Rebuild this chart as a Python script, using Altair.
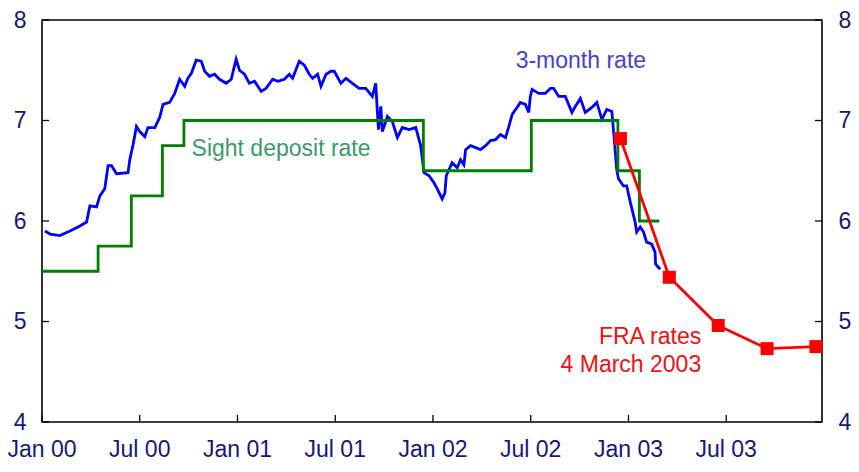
import altair as alt
import pandas as pd

# ---- data ----
# 3-month rate: decimal year, percent
rate3m_t = [2000.015, 2000.041, 2000.092, 2000.143, 2000.194, 2000.228, 2000.245, 2000.279, 2000.296, 2000.321,
            2000.338, 2000.356, 2000.381, 2000.440, 2000.449, 2000.466, 2000.483, 2000.500, 2000.526, 2000.542,
            2000.577, 2000.602, 2000.619, 2000.653, 2000.679, 2000.704, 2000.730, 2000.746, 2000.764, 2000.789,
            2000.815, 2000.832, 2000.857, 2000.883, 2000.908, 2000.942, 2000.968, 2000.993, 2001.010, 2001.036,
            2001.061, 2001.087, 2001.121, 2001.146, 2001.180, 2001.206, 2001.240, 2001.265, 2001.282, 2001.316,
            2001.342, 2001.367, 2001.384, 2001.410, 2001.427, 2001.453, 2001.478, 2001.495, 2001.529, 2001.555,
            2001.588, 2001.622, 2001.656, 2001.690, 2001.707, 2001.721, 2001.733, 2001.741, 2001.767, 2001.792,
            2001.818, 2001.843, 2001.878, 2001.912, 2001.937, 2001.954, 2001.980, 2002.005, 2002.022, 2002.047,
            2002.061, 2002.068, 2002.098, 2002.124, 2002.141, 2002.158, 2002.167, 2002.192, 2002.218, 2002.243,
            2002.269, 2002.294, 2002.320, 2002.345, 2002.371, 2002.388, 2002.405, 2002.430, 2002.447, 2002.473,
            2002.490, 2002.498, 2002.507, 2002.541, 2002.575, 2002.601, 2002.617, 2002.643, 2002.677, 2002.711,
            2002.728, 2002.754, 2002.779, 2002.813, 2002.838, 2002.864, 2002.889, 2002.915, 2002.923, 2002.940,
            2002.949, 2002.974, 2002.991, 2003.009, 2003.034, 2003.042, 2003.060, 2003.077, 2003.093, 2003.119,
            2003.136, 2003.139, 2003.162]
rate3m_v = [5.90, 5.87, 5.855, 5.90, 5.95, 5.99, 6.15, 6.14, 6.25, 6.32,
            6.55, 6.55, 6.47, 6.48, 6.61, 6.76, 6.94, 6.89, 6.84, 6.93,
            6.93, 7.03, 7.16, 7.18, 7.27, 7.41, 7.34, 7.42, 7.47, 7.60,
            7.59, 7.49, 7.44, 7.46, 7.41, 7.37, 7.41, 7.61, 7.50, 7.46,
            7.37, 7.39, 7.29, 7.32, 7.41, 7.39, 7.41, 7.46, 7.42, 7.59,
            7.55, 7.46, 7.42, 7.46, 7.34, 7.46, 7.49, 7.49, 7.37, 7.42,
            7.37, 7.32, 7.32, 7.24, 7.37, 6.91, 7.14, 6.89, 7.04, 6.99,
            6.83, 6.93, 6.91, 6.93, 6.75, 6.48, 6.45, 6.38, 6.32, 6.22,
            6.28, 6.45, 6.58, 6.53, 6.61, 6.56, 6.71, 6.75, 6.73, 6.71,
            6.75, 6.80, 6.81, 6.86, 6.83, 6.94, 7.06, 7.13, 7.18, 7.16,
            7.08, 7.24, 7.31, 7.27, 7.27, 7.32, 7.32, 7.24, 7.24, 7.08,
            7.14, 7.22, 7.08, 7.13, 7.18, 7.01, 7.11, 7.09, 6.91, 6.51,
            6.42, 6.35, 6.35, 6.19, 5.99, 5.89, 5.94, 5.89, 5.79, 5.77,
            5.69, 5.57, 5.52]

# Sight deposit rate (step changes)
sdr_t = [2000.0, 2000.287, 2000.457, 2000.616, 2000.726, 2001.951, 2002.503, 2002.946, 2003.056, 2003.158]
sdr_v = [5.5, 5.75, 6.25, 6.75, 7.0, 6.5, 7.0, 6.5, 6.0, 6.0]

# FRA rates, 4 March 2003
fra_t = [2002.959, 2003.209, 2003.459, 2003.709, 2003.959]
fra_v = [6.82, 5.44, 4.96, 4.73, 4.75]

x_ticks = [2000.0, 2000.5, 2001.0, 2001.5, 2002.0, 2002.5, 2003.0, 2003.5]
x_tick_labels = ["Jan 00", "Jul 00", "Jan 01", "Jul 01", "Jan 02", "Jul 02", "Jan 03", "Jul 03"]
y_ticks = [4, 5, 6, 7, 8]

# annotations
lab_left_text = ["3-month rate", "Sight deposit rate"]
lab_left_t = [2002.423, 2000.765]
lab_left_v = [7.525, 6.644]
lab_left_col = ["#4343d0", "#3a9a6c"]
lab_right_text = ["FRA rates", "4 March 2003"]
lab_right_t = [2003.372, 2003.372]
lab_right_v = [4.772, 4.495]

# ---- chart ----
W, H = 780, 402
FONT = "Liberation Sans"
LABEL_COL = "#16167a"
FS = 23

xs = alt.Scale(domain=[2000.0, 2003.99], nice=False, zero=False)
ys = alt.Scale(domain=[4, 8], nice=False, zero=False)

df3 = pd.DataFrame({"t": rate3m_t, "v": rate3m_v})
dfs = pd.DataFrame({"t": sdr_t, "v": sdr_v})
dff = pd.DataFrame({"t": fra_t, "v": fra_v})
dfx = pd.DataFrame({"t": x_ticks, "lab": x_tick_labels})
dfy = pd.DataFrame({"v": y_ticks})
dfl = pd.DataFrame({"t": lab_left_t, "v": lab_left_v, "txt": lab_left_text, "c": lab_left_col})
dfr = pd.DataFrame({"t": lab_right_t, "v": lab_right_v, "txt": lab_right_text})

yl_axis = alt.Axis(values=y_ticks, orient="left", domain=False, ticks=False, tickSize=0, grid=False,
                   labelFont=FONT, labelFontSize=FS, labelColor=LABEL_COL, labelPadding=16,
                   labelFlush=False, labelOverlap=False, labelBound=False, title=None)
yr_axis = alt.Axis(values=y_ticks, orient="right", domain=False, ticks=False, tickSize=0, grid=False,
                   labelFont=FONT, labelFontSize=FS, labelColor=LABEL_COL, labelPadding=16,
                   labelFlush=False, labelOverlap=False, labelBound=False, title=None)

X = alt.X("t:Q", scale=xs, axis=None)

blue = alt.Chart(df3).mark_line(color="#0000ff", strokeWidth=2.8).encode(
    x=X,
    y=alt.Y("v:Q", scale=ys, axis=yl_axis),
)
green = alt.Chart(dfs).mark_line(color="#008000", strokeWidth=2.8, interpolate="step-after").encode(
    x=X, y=alt.Y("v:Q", scale=ys, axis=None),
)
red_line = alt.Chart(dff).mark_line(color="#ff0000", strokeWidth=2.8).encode(
    x=X, y=alt.Y("v:Q", scale=ys, axis=None),
)
red_pts = alt.Chart(dff).mark_point(shape="square", filled=True, color="#ff0000", size=170, opacity=1).encode(
    x=X, y=alt.Y("v:Q", scale=ys, axis=None),
)
txt_left = alt.Chart(dfl).mark_text(align="left", baseline="alphabetic", font=FONT, fontSize=FS).encode(
    x=X, y=alt.Y("v:Q", scale=ys, axis=None),
    text="txt:N",
    color=alt.Color("c:N", scale=None),
)
txt_right = alt.Chart(dfr).mark_text(align="right", baseline="alphabetic", font=FONT, fontSize=FS,
                                     color="#f01010").encode(
    x=X, y=alt.Y("v:Q", scale=ys, axis=None),
    text="txt:N",
)
tick_left = alt.Chart(dfy).mark_rule(color="black", strokeWidth=1.3).encode(
    y=alt.Y("v:Q", scale=ys, axis=None),
    x=alt.value(0), x2=alt.value(7),
)
tick_right = alt.Chart(dfy).mark_rule(color="black", strokeWidth=1.3).encode(
    y=alt.Y("v:Q", scale=ys, axis=yr_axis),
    x=alt.value(W - 7), x2=alt.value(W),
)
tick_bottom = alt.Chart(dfx).mark_rule(color="black", strokeWidth=1.3).encode(
    x=X, y=alt.value(H - 7), y2=alt.value(H),
)
# x tick labels as text marks positioned by the x scale
tick_labels = alt.Chart(dfx).mark_text(align="center", baseline="alphabetic", font=FONT, fontSize=FS,
                                       color=LABEL_COL).encode(
    x=X, y=alt.value(H + 35), text="lab:N",
)

chart = alt.layer(
    blue, green, red_line, red_pts, txt_left, txt_right, tick_left, tick_right, tick_bottom, tick_labels
).resolve_axis(y="independent").properties(
    width=W, height=H,
    autosize=alt.AutoSizeParams(type="none"),
    padding={"left": 34, "top": 12, "right": 29, "bottom": 42},
    background="white",
).configure_view(stroke="black", strokeWidth=1.6)

chart.save("out.html", embed_options={"renderer": "svg", "actions": False})
